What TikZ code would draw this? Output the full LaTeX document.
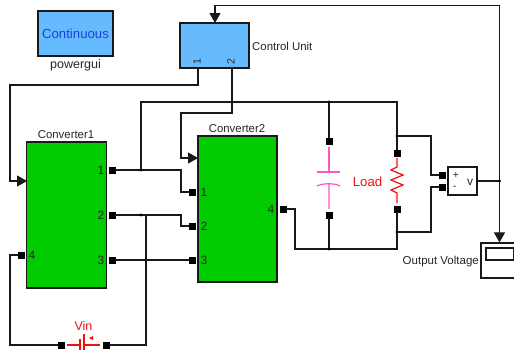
\documentclass[tikz,border=0pt]{standalone}
\usepackage{fontspec}
\setmainfont{Liberation Sans}
\usetikzlibrary{arrows.meta}
\definecolor{blockblue}{HTML}{66BBFF}
\definecolor{blockgreen}{HTML}{00CC00}
\definecolor{textblue}{HTML}{1A3FE6}
\definecolor{capmagenta}{HTML}{FF55CC}
\definecolor{elemred}{HTML}{EE1111}
\tikzset{
  port/.style={draw=black,fill=black,minimum size=6pt,inner sep=0pt},
  dot/.style={circle,fill=black,minimum size=3.4pt,inner sep=0pt},
  block/.style={draw=black!90,line width=1.2pt,minimum width=#1,inner sep=0pt},
  lbl/.style={font=\fontsize{11.4}{13}\selectfont,text=black!85,inner sep=0pt},
  num/.style={font=\fontsize{12}{14}\selectfont,text=black!85,inner sep=0pt},
  sig/.style={draw=black!90,line width=1.15pt},
  sigin/.style={sig,-{Triangle[length=10pt,width=11pt]}}
}
\begin{document}
\begin{tikzpicture}[x=1pt,y=-1pt]
    \useasboundingbox (0,0) rectangle (514,349);
    \clip (0,0) rectangle (514,349);
    \node(gui)[block=75pt,minimum height=45pt,fill=blockblue,text=textblue,font=\fontsize{13.2}{15}\selectfont] at (75.5,33.5) {Continuous};
    \node(guilbl)[lbl,font=\fontsize{12.5}{14}\selectfont] at (75.5,65) {powergui};
    \node(ctrl)[block=69pt,minimum height=45pt,fill=blockblue] at (214.5,45.5) {};
    \node(ctrllbl)[lbl,anchor=west] at (252,46) {Control Unit};
    \node(cu1)[num,rotate=90,font=\fontsize{10.5}{11}\selectfont] at (197,62) {1};
    \node(cu2)[num,rotate=90,font=\fontsize{10.5}{11}\selectfont] at (231,62) {2};
    \node(convA)[block=80pt,minimum height=146pt,fill=blockgreen] at (66.5,215) {};
    \node(convAlbl)[lbl] at (66,134.5) {Converter1};
    \node(convB)[block=79pt,minimum height=146pt,fill=blockgreen] at (237.5,209) {};
    \node(convBlbl)[lbl] at (237,128.5) {Converter2};
    \node(a1)[port] at (112,170) {};
    \node(a2)[port] at (112,215) {};
    \node(a3)[port] at (112,260) {};
    \node(a4)[port] at (21,255) {};
    \node(b1)[port] at (192,192) {};
    \node(b2)[port] at (192,226) {};
    \node(b3)[port] at (192,260) {};
    \node(b4)[port] at (283,209) {};
    \node[num] at (101,170) {1};
    \node[num] at (101,215) {2};
    \node[num] at (101,260) {3};
    \node[num] at (32,255) {4};
    \node[num] at (204,192) {1};
    \node[num] at (204,226) {2};
    \node[num] at (204,260) {3};
    \node[num] at (271,209) {4};
    \node(captop)[port] at (329,141) {};
    \node(capbot)[port] at (329,215) {};
    \node(loadtop)[port] at (397,153) {};
    \node(loadbot)[port] at (397,209) {};
    \node(vpos)[port] at (442,175) {};
    \node(vneg)[port] at (442,187) {};
    \node(vm)[block=29pt,minimum height=28pt] at (462.5,181) {};
    \node[num,font=\fontsize{10.5}{10.5}\selectfont] at (456,175.5) {+};
    \node[num,font=\fontsize{10.5}{10.5}\selectfont] at (454.5,187.5) {-};
    \node[num] at (470,182) {v};
    \node(scope)[block=36pt,minimum height=35pt] at (499,260.5) {};
    \node(screen)[block=27.5pt,minimum height=12pt] at (499.75,254) {};
    \node(scopelbl)[lbl,font=\fontsize{11.5}{13}\selectfont,anchor=east] at (479,262) {Output Voltage};
    \node(loadlbl)[lbl,text=elemred,font=\fontsize{13.2}{15}\selectfont] at (367.5,182) {Load};
    \node(vinlbl)[lbl,text=elemred,font=\fontsize{12.5}{14}\selectfont] at (83.5,326) {Vin};
    \node(vinl)[port] at (61,345) {};
    \node(vinr)[port] at (106,345) {};
    \coordinate(ctrlA) at (198,68);
    \coordinate(ctrlB) at (232,68);
    \coordinate(ctrlin) at (215,23);
    \coordinate(ctrltop) at (215,5.5);
    \coordinate(railA) at (10,85);
    \coordinate(railB) at (181,113);
    \coordinate(inA) at (27,181);
    \coordinate(inB) at (198,158);
    \coordinate(j1) at (141,170);
    \coordinate(j2) at (141,215);
    \coordinate(j3) at (146,215);
    \coordinate(top) at (141,102);
    \coordinate(jcap) at (329,102);
    \coordinate(jload) at (397,102);
    \coordinate(jplus) at (397,136);
    \coordinate(jminus) at (397,232);
    \coordinate(bot) at (295,249);
    \coordinate(jcapb) at (329,249);
    \coordinate(jloadb) at (397,249);
    \coordinate(jout) at (499.5,181);
    \coordinate(turnA) at (181,170);
    \coordinate(turnB) at (181,215);
    \coordinate(turnC) at (431,136);
    \coordinate(turnD) at (431,232);
    \coordinate(low) at (10,345);
    \draw[sigin] (ctrlA) |- (railA) |- (inA);
    \draw[sigin] (ctrlB) |- (railB) |- (inB);
    \draw[sig] (ctrlB) |- (top) -- (j1);
    \draw[sig] (a1) -- (turnA) |- (b1);
    \draw[sig] (a2) -- (turnB) |- (b2);
    \draw[sig] (a3) -- (b3);
    \draw[sig] (j3) |- (vinr);
    \draw[sig] (a4) -| (low) -- (vinl);
    \draw[sig] (top) -- (jload) -- (loadtop);
    \draw[sig] (jcap) -- (captop);
    \draw[sig] (jplus) -| (turnC) |- (vpos);
    \draw[sig] (jminus) -| (turnD) |- (vneg);
    \draw[sig] (b4) -| (bot) -- (jloadb) -- (loadbot);
    \draw[sig] (jcapb) -- (capbot);
    \draw[sig] (vm) -- (jout);
    \draw[sigin] (jout) -- (scope.north -| jout);
    \draw[sigin] (jout) |- (ctrltop) -- (ctrlin);
    \foreach \j in {j1,j2,jcap,jplus,jminus,jcapb,jout}
      \node[dot] at (\j) {};
    \draw[capmagenta,line width=1.2pt] (329,147) -- (329,172) (317,172) -- (340,172);
    \draw[capmagenta,line width=1.2pt] (329,209) -- (329,183.5) (317,186) .. controls (323,183) and (335,183) .. (340,186);
    \draw[elemred,line width=1.2pt] (397,158) -- (397,167) -- (391,170) -- (403,175) -- (391,180) -- (403,185) -- (391,190) -- (397,193) -- (397,203);
    \draw[elemred,line width=1.2pt] (67,345) -- (80,345) (80,339) -- (80,351) (84,334) -- (84,351) (84,345) -- (100,345);
    \fill[elemred] (93,336) -- (89,338) -- (93,340) -- cycle;
  \end{tikzpicture}
\end{document}
